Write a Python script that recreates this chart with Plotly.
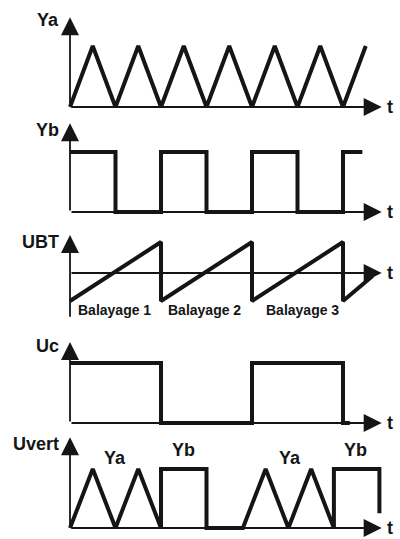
"""Timing diagram: Ya / Yb chopped display with sweep sawtooth."""

import plotly.graph_objects as go

# ----- Signal data (t in half periods of Ya) -----
YA_T = [0, 1, 2, 3, 4, 5, 6, 7, 8, 9, 10, 11, 12, 13]
YA_V = [0, 1, 0, 1, 0, 1, 0, 1, 0, 1, 0, 1, 0, 1]

YB_T = [0, 2, 2, 4, 4, 6, 6, 8, 8, 10, 10, 12, 12, 12.85]
YB_V = [1, 1, 0, 0, 1, 1, 0, 0, 1, 1, 0, 0, 1, 1]

UBT_T = [0, 4, 4, 8, 8, 12, 12, 13.3]
UBT_V = [-0.95, 1.05, -0.95, 1.05, -0.95, 1.05, -0.95, -0.1]

UC_T = [0, 4, 4, 8, 8, 12, 12, 12.3]
UC_V = [1, 1, 0, 0, 1, 1, 0, 0]

UVERT_T = [0, 1, 2, 3, 4, 4, 6, 6, 7.6, 8.6, 9.6, 10.6, 11.6, 11.6, 13.6, 13.6]
UVERT_V = [0, 1, 0, 1, 0, 1, 1, 0, 0, 1, 0, 1, 0, 1, 1, 0.25]

# ----- Labels -----
AXIS_NAMES = ["Ya", "Yb", "UBT", "Uc", "Uvert"]
SWEEP_LABELS = ["Balayage 1", "Balayage 2", "Balayage 3"]
SWEEP_LABEL_T = [1.95, 5.9, 10.2]
UVERT_LABELS = ["Ya", "Yb", "Ya", "Yb"]
UVERT_LABEL_T = [1.98, 4.97, 9.67, 12.53]
UVERT_LABEL_V = [1.19, 1.32, 1.19, 1.32]

# ----- Geometry (pixels) -----
W, H = 400, 539
X0_PX, T_PX = 70, 22.75
INK = "#151515"
FONT = "Liberation Sans, Arial, sans-serif"

# band top, band bottom, zero line, one unit, arrow tip value, axis bottom value, name value
PANELS = [
    dict(top=8, bottom=116, zero=107, unit=61, tip=1.47, low=0, name_v=1.42),
    dict(top=116, bottom=222, zero=212, unit=60, tip=1.48, low=0, name_v=1.36),
    dict(top=222, bottom=328, zero=273, unit=29.5, tip=1.29, low=-1.53, name_v=1.05),
    dict(top=328, bottom=432, zero=423, unit=60, tip=1.35, low=0, name_v=1.28),
    dict(top=432, bottom=537, zero=528, unit=59, tip=1.54, low=0, name_v=1.42),
]
SIGNALS = [(YA_T, YA_V), (YB_T, YB_V), (UBT_T, UBT_V), (UC_T, UC_V), (UVERT_T, UVERT_V)]

T_TIP = 13.7
T_LABEL = 14.05
X_RANGE = [-X0_PX / T_PX, (W - X0_PX) / T_PX]


def _y_axis(panel: dict) -> dict:
    """Domain and range so that value 0 sits on the panel's baseline pixel."""
    lo = (panel["zero"] - panel["bottom"]) / panel["unit"]
    hi = (panel["zero"] - panel["top"]) / panel["unit"]
    return dict(
        domain=[1 - panel["bottom"] / H, 1 - panel["top"] / H],
        range=[lo, hi],
        visible=False,
        fixedrange=True,
    )


def _arrow(xref, yref, x, y, ax, ay) -> dict:
    return dict(
        xref=xref, yref=yref, axref=xref, ayref=yref,
        x=x, y=y, ax=ax, ay=ay, text="",
        showarrow=True, arrowhead=2, arrowsize=2.0, arrowwidth=1.8,
        arrowcolor=INK, standoff=0,
    )


fig = go.Figure()
layout = dict(
    width=W, height=H,
    margin=dict(l=0, r=0, t=0, b=0),
    paper_bgcolor="white", plot_bgcolor="white",
    showlegend=False,
)
annotations = []

for i, (panel, (ts, vs), name) in enumerate(zip(PANELS, SIGNALS, AXIS_NAMES), start=1):
    sfx = "" if i == 1 else str(i)
    xref, yref = f"x{sfx}", f"y{sfx}"

    layout[f"xaxis{sfx}"] = dict(
        domain=[0, 1], range=X_RANGE, visible=False, fixedrange=True, anchor=yref
    )
    layout[f"yaxis{sfx}"] = dict(_y_axis(panel), anchor=xref)

    fig.add_trace(go.Scatter(
        x=ts, y=vs, mode="lines", xaxis=xref, yaxis=yref,
        line=dict(color=INK, width=4, shape="linear"),
        hoverinfo="skip",
    ))

    # axes with arrows
    annotations.append(_arrow(xref, yref, 0, panel["tip"], 0, panel["low"]))
    annotations.append(_arrow(xref, yref, T_TIP, 0, 0, 0))
    annotations.append(dict(
        xref=xref, yref=yref, x=T_LABEL, y=0, text="<b>t</b>", showarrow=False,
        font=dict(family=FONT, size=18, color=INK), xanchor="center", yanchor="middle",
    ))
    annotations.append(dict(
        xref=xref, yref=yref, x=-0.38, y=panel["name_v"], text=f"<b>{name}</b>",
        showarrow=False, font=dict(family=FONT, size=18, color=INK),
        xanchor="right", yanchor="middle",
    ))

for label, t in zip(SWEEP_LABELS, SWEEP_LABEL_T):
    annotations.append(dict(
        xref="x3", yref="y3", x=t, y=-1.25, text=f"<b>{label}</b>", showarrow=False,
        font=dict(family=FONT, size=14, color=INK), xanchor="center", yanchor="middle",
    ))

for label, t, v in zip(UVERT_LABELS, UVERT_LABEL_T, UVERT_LABEL_V):
    annotations.append(dict(
        xref="x5", yref="y5", x=t, y=v, text=f"<b>{label}</b>", showarrow=False,
        font=dict(family=FONT, size=18, color=INK), xanchor="center", yanchor="middle",
    ))

layout["annotations"] = annotations
fig.update_layout(**layout)
# the page body has a default 8px margin; drop it so the figure fills the window
fig.write_html(
    "out.html",
    config={"displayModeBar": False},
    post_script="document.body.style.margin='0';document.body.style.overflow='hidden';",
)
